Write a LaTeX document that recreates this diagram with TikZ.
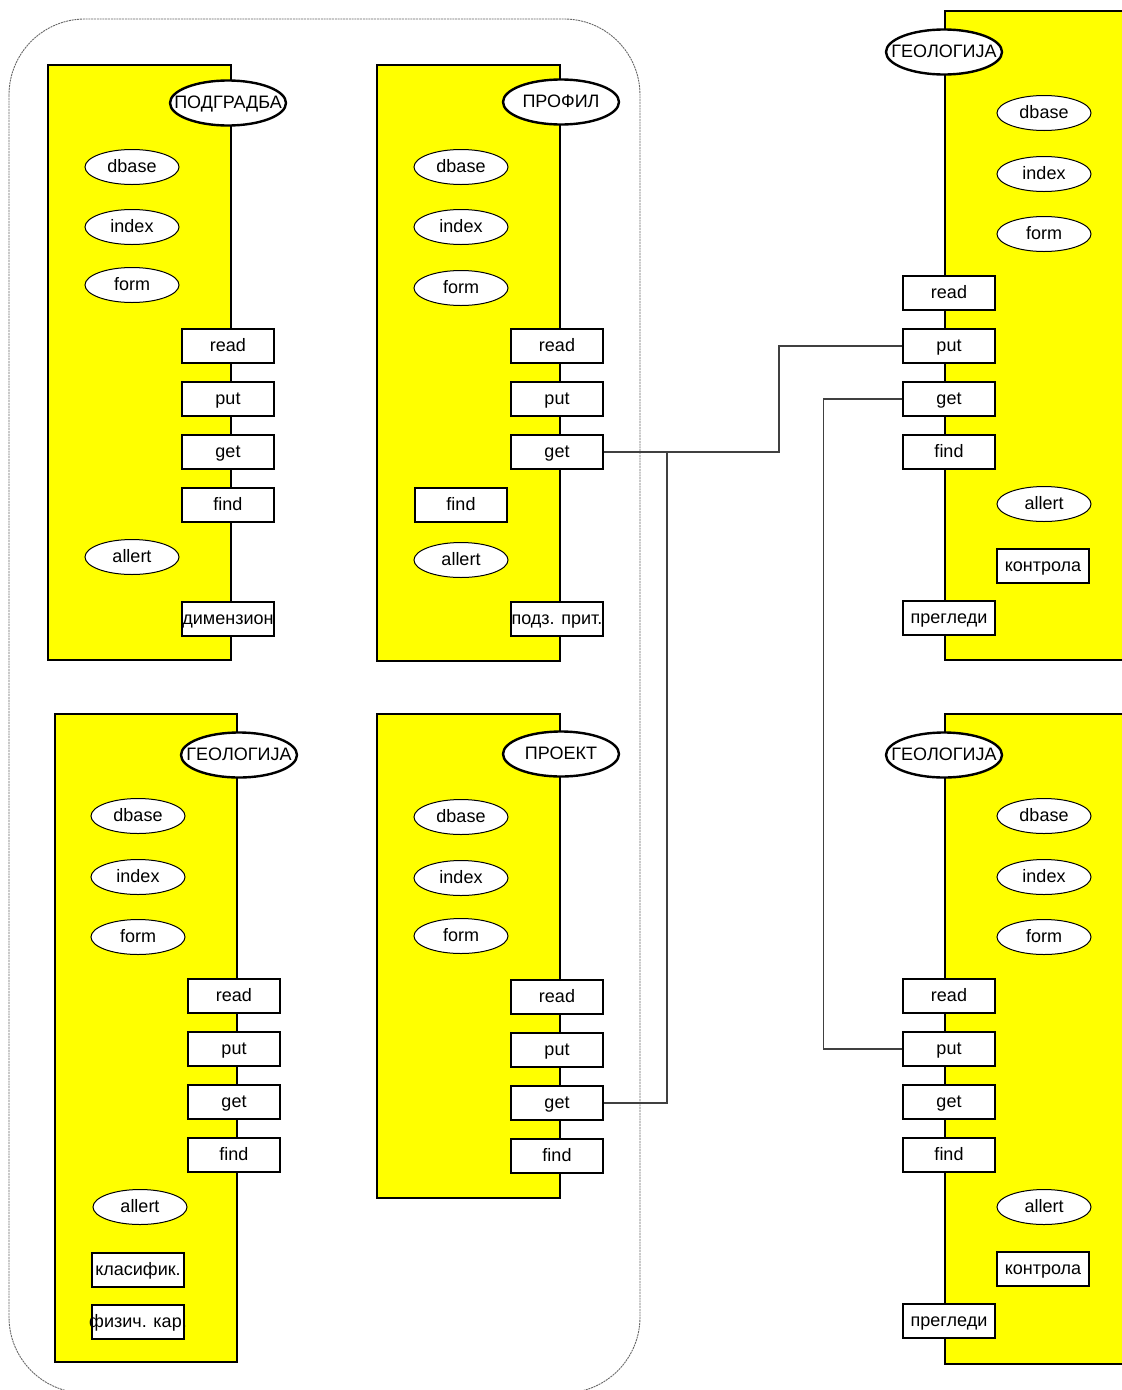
\documentclass[tikz,border=0pt]{standalone}
\usepackage{fontspec}
\setmainfont{Liberation Sans}
\usetikzlibrary{shapes.geometric}
\definecolor{pyel}{RGB}{255,255,0}
\newcommand\zw[1]{\makebox[0pt]{#1}}

\begin{document}
\begin{tikzpicture}[x=1pt,y=-1pt,
every node/.style={font=\fontsize{18}{20}\selectfont, inner sep=1pt, text height=13pt, text depth=3pt},
pnl/.style={draw, fill=pyel, line width=1.6pt},
ttl/.style={ellipse, draw, fill=white, line width=2.4pt, minimum width=116, minimum height=45},
fld/.style={ellipse, draw, fill=white, line width=1pt, minimum width=94, minimum height=35},
op/.style={rectangle, draw, fill=white, line width=1.8pt, minimum width=92, minimum height=34},
wire/.style={line width=1.2pt, black!75}
]
\useasboundingbox (0,0) rectangle (1122,1390);
\clip (0,0) rectangle (1122,1390);

\draw[black!60, line width=0.9pt, dash pattern=on 2pt off 0.8pt, rounded corners=76] (9,19) rectangle (640,1393);

% ПОДГРАДБА
\draw[pnl] (48,65) rectangle (231,660);
\node[ttl] (P1) at (228,103) {\zw{ПОДГРАДБА}};
\foreach \n/\y in {dbase/167,index/227,form/285,allert/557}
  \node[fld] (P1-\n) at (132,\y) {\zw{\n}};
\foreach \n/\y in {read/346,put/399,get/452,find/505}
  \node[op] (P1-\n) at (228,\y) {\zw{\n}};
\node[op] (P1-dim) at (228,619) {\zw{димензион}};

% ПРОФИЛ
\draw[pnl] (377,65) rectangle (560,661);
\node[ttl] (P2) at (561,102) {\zw{ПРОФИЛ}};
\foreach \n/\y in {dbase/167,index/227,form/288,allert/560}
  \node[fld] (P2-\n) at (461,\y) {\zw{\n}};
\foreach \n/\y in {read/346,put/399,get/452}
  \node[op] (P2-\n) at (557,\y) {\zw{\n}};
\node[op] (P2-find) at (461,505) {\zw{find}};
\node[op] (P2-pp) at (557,619) {\zw{подз. прит.}};

% ГЕОЛОГИЈА, lower left
\draw[pnl] (55,714) rectangle (237,1362);
\node[ttl] (G1) at (239,755) {\zw{ГЕОЛОГИЈА}};
\foreach \n/\y in {dbase/816,index/877,form/937}
  \node[fld] (G1-\n) at (138,\y) {\zw{\n}};
\node[fld] (G1-allert) at (140,1207) {\zw{allert}};
\foreach \n/\y in {read/996,put/1049,get/1102,find/1155}
  \node[op] (G1-\n) at (234,\y) {\zw{\n}};
\node[op] (G1-kl) at (138,1270) {\zw{класифик.}};
\node[op] (G1-fk) at (138,1322) {\zw{физич. кар.}};

% ПРОЕКТ
\draw[pnl] (377,714) rectangle (560,1198);
\node[ttl] (PR) at (561,754) {\zw{ПРОЕКТ}};
\foreach \n/\y in {dbase/817,index/878,form/936}
  \node[fld] (PR-\n) at (461,\y) {\zw{\n}};
\foreach \n/\y in {read/997,put/1050,get/1103,find/1156}
  \node[op] (PR-\n) at (557,\y) {\zw{\n}};

% ГЕОЛОГИЈА, right
\foreach \g/\t in {G2/0,G3/703}{
  \draw[pnl] (945,11+\t) rectangle (1140,660+\t+\t/703);
  \node[ttl] (\g) at (944,52+\t) {\zw{ГЕОЛОГИЈА}};
  \foreach \n/\y in {dbase/113,index/174,form/234,allert/504}
    \node[fld] (\g-\n) at (1044,\y+\t) {\zw{\n}};
  \foreach \n/\y in {read/293,put/346,get/399,find/452}
    \node[op] (\g-\n) at (949,\y+\t) {\zw{\n}};
  \node[op] (\g-ko) at (1043,566+\t) {\zw{контрола}};
  \node[op] (\g-pr) at (949,618+\t) {\zw{прегледи}};
}

\draw[wire] (P2-get.east) -- ++(175,0) |- (G2-put.west);
\draw[wire] (PR-get.east) -- ++(63,0) |- (P2-get.east);
\draw[wire] (G2-get.west) -- ++(-79,0) |- (G3-put.west);
\end{tikzpicture}
\end{document}
